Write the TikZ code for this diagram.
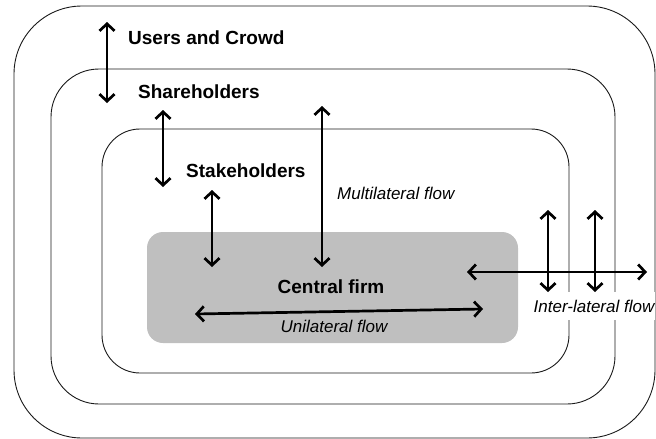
\documentclass[tikz,border=0pt]{standalone}
\usepackage{fontspec}
\setmainfont{Liberation Sans}
\usetikzlibrary{arrows.meta,positioning}
\definecolor{firmgray}{RGB}{191,191,191}

\begin{document}
\begin{tikzpicture}[
        x=1pt, y=-1pt,
        frame/.style={
            rectangle,
            draw=black!90,
            line width=0.9pt,
            inner sep=0pt
        },
        label/.style={
            inner sep=0pt,
            font=\fontsize{19}{22}\selectfont\bfseries
        },
        flowlabel/.style={
            inner sep=0pt,
            font=\fontsize{17}{20}\selectfont\itshape
        },
        flow/.style={{Straight Barb[length=7pt,width=15pt]}-{Straight Barb[length=7pt,width=15pt]}, line width=2.7pt}
    ]
    \useasboundingbox (0,0) rectangle (656,439);

    % nested frames
    \node[frame, minimum width=641pt, minimum height=432pt, rounded corners=68pt] (crowd) at (334.5,222) {};
    \node[frame, minimum width=564pt, minimum height=335pt, rounded corners=48pt] (share) at (333,236.5) {};
    \node[frame, minimum width=467pt, minimum height=244pt, rounded corners=38pt] (stake) at (335.5,251) {};
    \node[frame, draw=none, fill=firmgray, minimum width=371pt, minimum height=111pt, rounded corners=16pt] (firm) at (332.5,287.5) {};

    % labels
    \node[label, anchor=west] (crowdlbl) at (128,38) {Users and Crowd};
    \node[label, anchor=west] (sharelbl) at (138,92) {Shareholders};
    \node[label, anchor=west] (stakelbl) at (186,171) {Stakeholders};
    \node[label] (firmlbl) at (331,287) {Central firm};
    \node[flowlabel, anchor=west] (multi) at (337,193) {Multilateral flow};
    \node[flowlabel] (uni) at (334,326) {Unilateral flow};
    \node[flowlabel, fill=white, inner ysep=8pt, inner xsep=1pt] (inter) at (594,306) {Inter-lateral flow};

    % arrow ends
    \coordinate (c1a) at (107,22);   \coordinate (c1b) at (107,103);
    \coordinate (c2a) at (163,110);  \coordinate (c2b) at (163,187);
    \coordinate (c3a) at (212,190);  \coordinate (c3b) at (212,267);
    \coordinate (m1a) at (322,106);  \coordinate (m1b) at (322,267);
    \coordinate (u1a) at (195,314);  \coordinate (u1b) at (483,309);
    \coordinate (i1a) at (467,272);  \coordinate (i1b) at (647,272);
    \coordinate (i2a) at (548,210);  \coordinate (i2b) at (548,292);
    \coordinate (i3a) at (595,210);  \coordinate (i3b) at (595,292);

    \draw[flow] (c1a) -- (c1b);
    \draw[flow] (c2a) -- (c2b);
    \draw[flow] (c3a) -- (c3b);
    \draw[flow] (m1a) -- (m1b);
    \draw[flow] (u1a) -- (u1b);
    \draw[flow] (i1a) -- (i1b);
    \draw[flow] (i2a) -- (i2b);
    \draw[flow] (i3a) -- (i3b);
\end{tikzpicture}
\end{document}
